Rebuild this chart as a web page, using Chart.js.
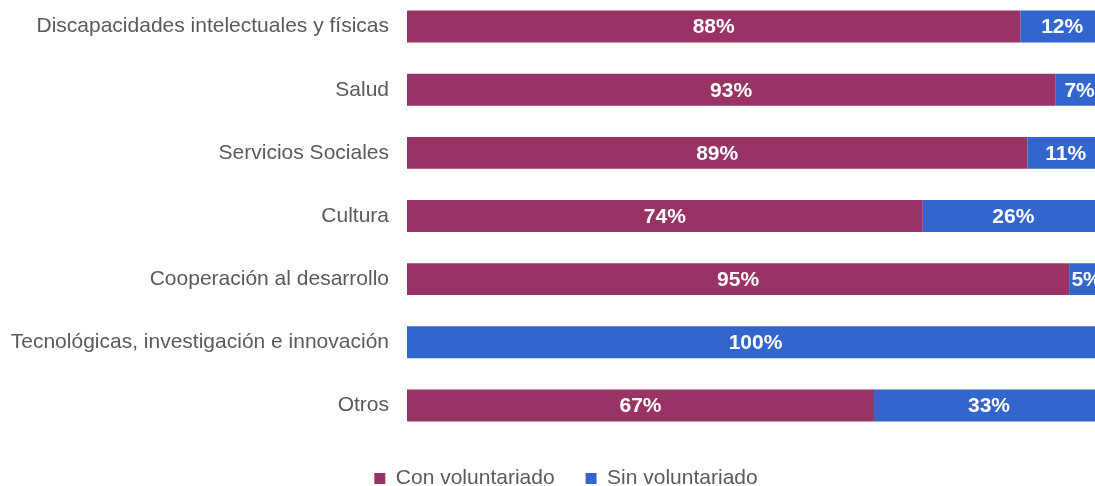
<!DOCTYPE html>
<html>
<head>
<meta charset="utf-8">
<script src="https://cdn.jsdelivr.net/npm/chart.js@4"></script>
<style>
  html, body { margin: 0; padding: 0; overflow: hidden; background: #ffffff; width: 1095px; height: 486px; }
  #wrap { position: absolute; left: 0; top: -5px; width: 1132px; height: 504px; }
</style>
</head>
<body>
<div id="wrap"><canvas id="c"></canvas></div>
<script>
const categories = [
  "Discapacidades intelectuales y físicas",
  "Salud",
  "Servicios Sociales",
  "Cultura",
  "Cooperación al desarrollo",
  "Tecnológicas, investigación e innovación",
  "Otros"
];
const conVoluntariado = [88, 93, 89, 74, 95, 0, 67];
const sinVoluntariado = [12, 7, 11, 26, 5, 100, 33];
const seriesNames = ["Con voluntariado", "Sin voluntariado"];
const seriesColors = ["#993366", "#3366cc"];

const FONT = '"Liberation Sans", Arial, sans-serif';

const valueLabels = {
  id: 'valueLabels',
  afterDatasetsDraw(chart) {
    const ctx = chart.ctx;
    ctx.save();
    ctx.font = 'bold 21px ' + FONT;
    ctx.fillStyle = '#ffffff';
    ctx.textAlign = 'center';
    ctx.textBaseline = 'middle';
    chart.data.datasets.forEach((ds, i) => {
      const meta = chart.getDatasetMeta(i);
      meta.data.forEach((bar, j) => {
        const v = ds.data[j];
        if (!v) return;
        const p = bar.getProps(['x', 'y', 'base'], true);
        ctx.fillText(v + '%', (p.x + p.base) / 2, p.y + 1);
      });
    });
    ctx.restore();
  }
};

// centre the legend slightly right of the padded area, as in the reference
const legendShift = {
  id: 'legendShift',
  afterLayout(chart) {
    if (chart.legend) {
      chart.legend.left += 14;
      chart.legend.right += 14;
    }
  }
};

new Chart(document.getElementById('c'), {
  type: 'bar',
  data: {
    labels: categories,
    datasets: [
      { label: seriesNames[0], data: conVoluntariado, backgroundColor: seriesColors[0], borderWidth: 0 },
      { label: seriesNames[1], data: sinVoluntariado, backgroundColor: seriesColors[1], borderWidth: 0 }
    ]
  },
  options: {
    indexAxis: 'y',
    responsive: true,
    maintainAspectRatio: false,
    animation: false,
    layout: { padding: { left: 0, right: 28, top: 0, bottom: 0 } },
    datasets: { bar: { barPercentage: 0.506, categoryPercentage: 1.0 } },
    scales: {
      x: { stacked: true, min: 0, max: 100, display: false },
      y: {
        stacked: true,
        grid: { display: false, drawTicks: false },
        border: { display: false },
        ticks: { color: '#5a5a5a', font: { family: FONT, size: 21 }, padding: 18 },
        afterFit(scale) {
          scale.width = 407;
          scale.paddingTop = 0;
          scale.paddingBottom = 0;
        }
      }
    },
    plugins: {
      legend: {
        position: 'bottom',
        labels: {
          boxWidth: 11,
          boxHeight: 11,
          padding: 31,
          color: '#5a5a5a',
          font: { family: FONT, size: 21 }
        }
      },
      tooltip: { enabled: false }
    }
  },
  plugins: [valueLabels, legendShift]
});
</script>
</body>
</html>
